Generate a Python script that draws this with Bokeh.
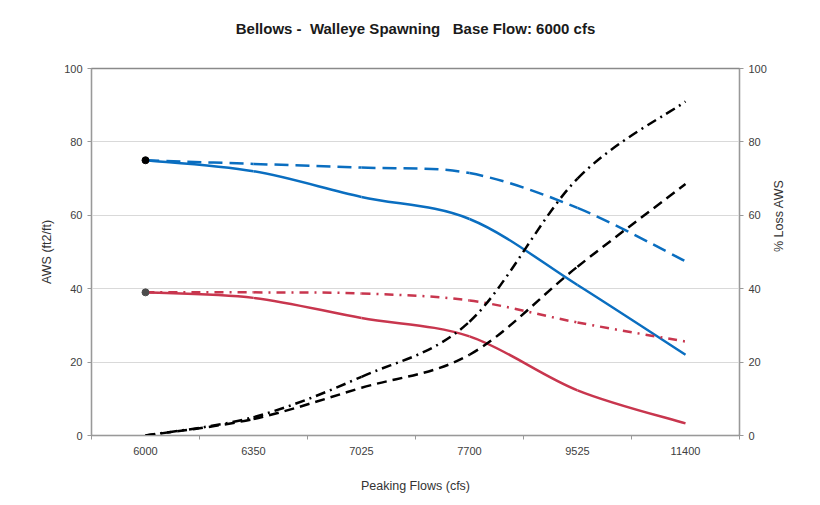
import math
import numpy as np
from bokeh.plotting import figure
from bokeh.models import (Range1d, LinearAxis, FixedTicker, ColumnDataSource)
from bokeh.embed import file_html
from bokeh.resources import INLINE

# ---- data ----
categories = ["6000", "6350", "7025", "7700", "9525", "11400"]
aws_peak = [75, 72, 65, 59, 41, 22]            # blue solid
aws_base = [75, 74, 73, 71.5, 62, 47.5]        # blue dashed
aws2_peak = [39, 37.5, 32, 27, 12.3, 3.3]      # red solid
aws2_base = [39, 39, 38.7, 36.8, 30.8, 25.6]   # red dash-dot
loss_1 = [0, 4.5, 13, 22, 46, 68.5]            # black dashed (right axis)
loss_2 = [0, 5, 16, 31, 70, 91]                # black dash-dot (right axis)
y_ticks = [0, 20, 40, 60, 80, 100]
title_text = "Bellows -\u00a0 Walleye Spawning\u00a0\u00a0 Base Flow: 6000 cfs"

FONT = "Liberation Sans"
xpos = np.arange(len(categories)) + 0.5

p = figure(width=812, height=497, output_backend="svg", toolbar_location=None,
           x_range=Range1d(0, len(categories)), y_range=Range1d(0, 100),
           min_border_left=91, min_border_top=68, min_border_right=73,
           min_border_bottom=62)
p.extra_y_ranges = {"loss": Range1d(0, 100)}

xa = p.below[0]
ya = p.left[0]

# title: drawn as the label of a bare axis above the frame
ta = LinearAxis(ticker=FixedTicker(ticks=[]))
ta.axis_line_color = None
ta.major_tick_line_color = None
ta.minor_tick_line_color = None
ta.major_tick_out = 0
ta.major_tick_in = 0
ta.major_label_standoff = 0
ta.major_label_text_font_size = "0px"
ta.axis_label = title_text
ta.axis_label_text_font = FONT
ta.axis_label_text_font_size = "15px"
ta.axis_label_text_font_style = "bold"
ta.axis_label_text_color = "#1a1a1a"
ta.axis_label_standoff = 32
p.add_layout(ta, "above")

p.outline_line_color = "#8a8a8a"
p.outline_line_width = 1.5
p.background_fill_color = "white"
p.border_fill_color = "white"

p.xgrid.grid_line_color = None
p.ygrid.grid_line_color = "#d9d9d9"
p.ygrid.ticker = FixedTicker(ticks=y_ticks)

# x axis
xa.ticker = FixedTicker(ticks=list(xpos), minor_ticks=list(range(len(categories) + 1)))
xa.major_label_overrides = {float(x): c for x, c in zip(xpos, categories)}
xa.major_tick_line_color = None
xa.major_tick_out = 0
xa.major_tick_in = 0
xa.minor_tick_line_color = "#999999"
xa.minor_tick_out = 4
xa.minor_tick_in = 0
xa.axis_line_color = "#999999"
xa.major_label_standoff = 7
xa.axis_label = "Peaking Flows (cfs)"
xa.axis_label_standoff = 21

# left y axis
ya.ticker = FixedTicker(ticks=y_ticks)
ya.axis_label = "AWS (ft2/ft)"
ya.axis_label_standoff = 7

ra = LinearAxis(y_range_name="loss", ticker=FixedTicker(ticks=y_ticks))
ra.axis_label = "% Loss AWS"
ra.axis_label_standoff = 9
if "axis_label_orientation" in ra.properties():
    ra.axis_label_orientation = math.pi / 2
p.add_layout(ra, "right")

for ax in [xa, ya, ra]:
    ax.major_label_text_font = FONT
    ax.major_label_text_font_size = "11px"
    ax.major_label_text_color = "#404040"
    ax.axis_label_text_font = FONT
    ax.axis_label_text_font_size = "12.5px"
    ax.axis_label_text_font_style = "normal"
    ax.axis_label_text_color = "#333333"
for ax in [ya, ra]:
    ax.axis_line_color = "#999999"
    ax.major_tick_line_color = "#999999"
    ax.major_tick_out = 4
    ax.major_tick_in = 0
    ax.minor_tick_line_color = None
    ax.major_label_standoff = 5


def smooth(p_fig, vals, color, dash, width=2.5, y_range_name="default"):
    y = np.asarray(vals, dtype=float)
    x = xpos
    n = len(y)
    x0, y0, x1, y1, cx0, cy0, cx1, cy1 = [], [], [], [], [], [], [], []
    for i in range(n - 1):
        ip = max(i - 1, 0)
        inx = min(i + 2, n - 1)
        x0.append(x[i]); y0.append(y[i])
        x1.append(x[i + 1]); y1.append(y[i + 1])
        cx0.append(x[i] + (x[i + 1] - x[ip]) / 6.0)
        cy0.append(y[i] + (y[i + 1] - y[ip]) / 6.0)
        cx1.append(x[i + 1] - (x[inx] - x[i]) / 6.0)
        cy1.append(y[i + 1] - (y[inx] - y[i]) / 6.0)
    src = ColumnDataSource(dict(x0=x0, y0=y0, x1=x1, y1=y1,
                                cx0=cx0, cy0=cy0, cx1=cx1, cy1=cy1))
    p_fig.bezier(x0="x0", y0="y0", x1="x1", y1="y1", cx0="cx0", cy0="cy0",
                 cx1="cx1", cy1="cy1", source=src, line_color=color,
                 line_width=width, line_dash=dash, y_range_name=y_range_name)


BLUE = "#0A6EC0"
RED = "#C8364E"
smooth(p, aws_base, BLUE, "14 7")
smooth(p, aws_peak, BLUE, "solid")
smooth(p, aws2_base, RED, "9 6 2 6")
smooth(p, aws2_peak, RED, "solid")
smooth(p, loss_1, "#000000", "10 6", y_range_name="loss")
smooth(p, loss_2, "#000000", "10 5 2 5", y_range_name="loss")

p.scatter([xpos[0]], [aws_peak[0]], size=7, color="#000000")
p.scatter([xpos[0]], [aws2_peak[0]], size=7, color="#4d4d4d")

open("out.html", "w").write(file_html(p, INLINE))
